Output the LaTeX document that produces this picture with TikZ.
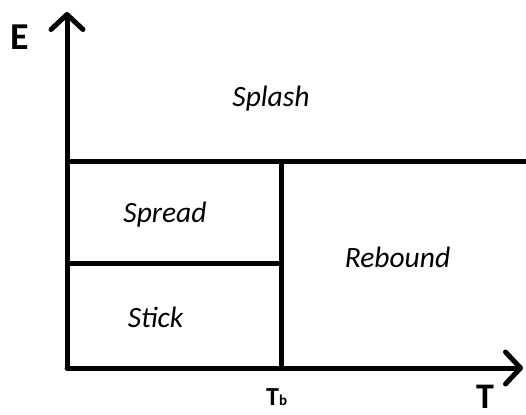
\documentclass[tikz,border=0pt]{standalone}
\usepackage{fontspec}
\setmainfont{Carlito}
\usetikzlibrary{arrows.meta}
\begin{document}
\begin{tikzpicture}[x=1pt,y=-1pt,
  axis/.style={line width=5pt,line cap=round,-{Straight Barb[length=15pt,width=32pt,line width=5pt,round]}},
  bound/.style={line width=5pt},
  region/.style={anchor=base,inner sep=0pt,font=\fontsize{29.5}{31}\selectfont\itshape},
  axlabel/.style={anchor=base west,inner sep=0pt,font=\fontsize{38}{40}\selectfont\bfseries}]
\useasboundingbox (0,0) rectangle (526,414);
\fill[white] (0,0) rectangle (526,414);
\coordinate (O) at (67,368);
\coordinate (Ytip) at (67,12);
\coordinate (Xtip) at (523,368);
\coordinate (HL) at (65.5,161);
\coordinate (HR) at (528,161);
\coordinate (VT) at (281,161);
\coordinate (VB) at (281,368);
\coordinate (ML) at (67,263);
\coordinate (MR) at (281,263);
\draw[bound] (HL) -- (HR);
\draw[bound] (VT) -- (VB);
\draw[bound] (ML) -- (MR);
\draw[axis] (O) -- (Ytip);
\draw[axis] (O) -- (Xtip);
\node[axlabel] (E) at (10,50) {E};
\node[axlabel,font=\fontsize{36}{38}\selectfont\bfseries] (T) at (476,408) {T};
\node[anchor=base west,inner sep=0pt,font=\fontsize{26}{28}\selectfont\bfseries] (Tb) at (266,405) {T{\fontsize{15}{16}\selectfont b}};
\node[region] (splash) at (271,107) {Splash};
\node[region] (spread) at (165,222) {Spread};
\node[region] (stick) at (155.5,327) {Stick};
\node[region] (rebound) at (397.5,267) {Rebound};
\end{tikzpicture}
\end{document}
